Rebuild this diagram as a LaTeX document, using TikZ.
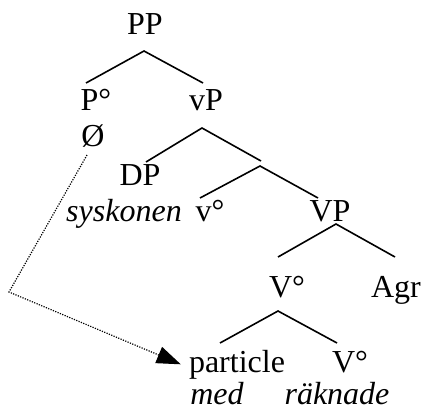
\documentclass[tikz,border=0pt]{standalone}
\usepackage{fontspec}
\setmainfont{Liberation Serif}
\usetikzlibrary{arrows.meta}
\begin{document}
\begin{tikzpicture}[x=0.75pt,y=-0.75pt,
  lbl/.style={anchor=base,inner sep=0pt,font=\fontsize{24}{28}\selectfont},
  word/.style={lbl,font=\fontsize{24}{28}\selectfont\itshape},
  branch/.style={line width=1.2pt},
  move/.style={densely dotted,line width=0.9pt,-{Triangle[length=18pt,width=13pt]}}]
 \useasboundingbox (0,0) rectangle (423,410);
 % labels
 \node[lbl] (pp) at (145,35) {PP};
 \node[lbl] (po) at (96,110) {P°};
 \node[lbl] (vp) at (206,110) {vP};
 \node[lbl] (null) at (93,146) {Ø};
 \node[lbl] (dp) at (140,185) {DP};
 \node[word] (sysk) at (124,221) {syskonen};
 \node[lbl] (vo) at (210,221) {v°};
 \node[lbl] (VP) at (330,221) {VP};
 \node[lbl] (Vo) at (287,297) {V°};
 \node[lbl] (agr) at (396,297) {Agr};
 \node[lbl] (prt) at (237,372) {particle};
 \node[lbl] (Vo2) at (350,372) {V°};
 \node[word] (med) at (217,404) {med};
 \node[word] (rakn) at (337,404) {räknade};
 % branch ends
 \coordinate (pp-b) at (144,51);
 \coordinate (po-t) at (86,83);
 \coordinate (vp-t) at (203,83);
 \coordinate (vp-b) at (202,128);
 \coordinate (dp-t) at (146,162);
 \coordinate (vbar-t) at (261,161);
 \coordinate (vbar-b) at (260,166);
 \coordinate (vo-t) at (200,198);
 \coordinate (VP-t) at (318,198);
 \coordinate (VP-b) at (336,224);
 \coordinate (Vo-t) at (278,257);
 \coordinate (agr-t) at (395,257);
 \coordinate (Vo-b) at (278,311);
 \coordinate (prt-t) at (220,343);
 \coordinate (Vo2-t) at (337,343);
 \draw[branch] (po-t) -- (pp-b) -- (vp-t);
 \draw[branch] (dp-t) -- (vp-b) -- (vbar-t);
 \draw[branch] (vo-t) -- (vbar-b) -- (VP-t);
 \draw[branch] (Vo-t) -- (VP-b) -- (agr-t);
 \draw[branch] (prt-t) -- (Vo-b) -- (Vo2-t);
 % movement
 \coordinate (trace) at (87,155);
 \coordinate (bend) at (9,292);
 \draw[move] (trace) -- (bend) -- ([xshift=-6]prt.west);
\end{tikzpicture}
\end{document}
